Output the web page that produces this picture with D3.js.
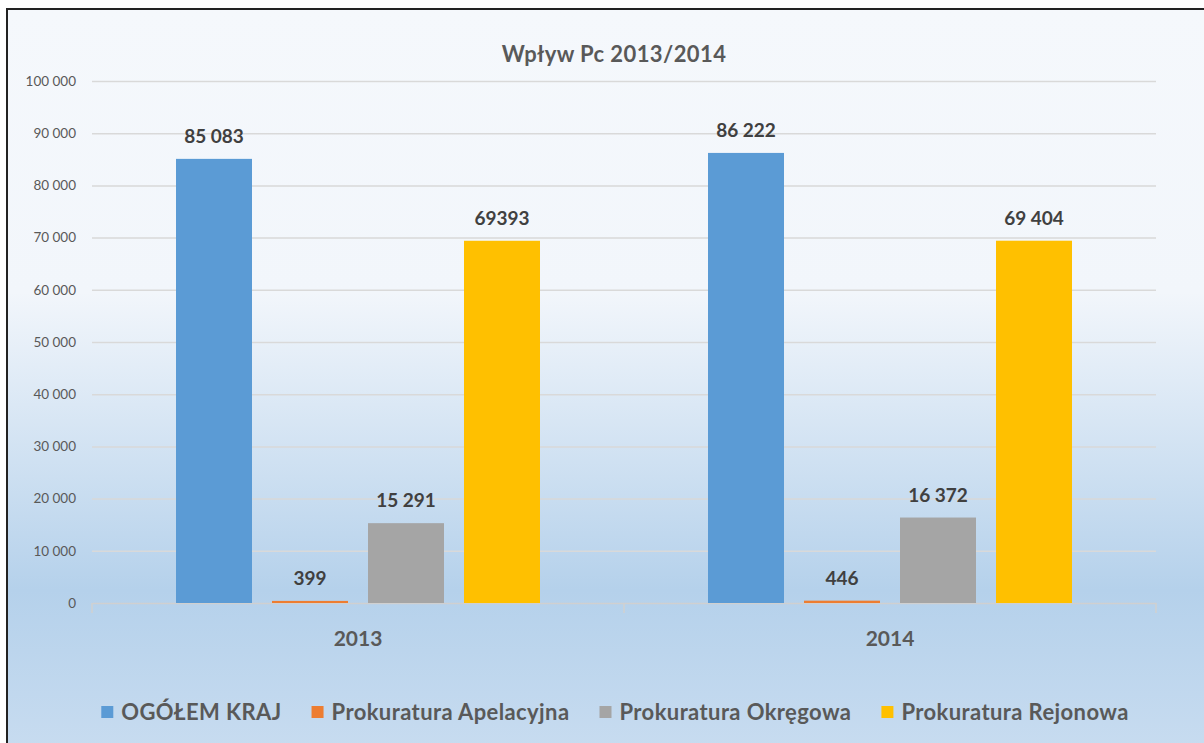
<!DOCTYPE html>
<html>
<head>
<meta charset="utf-8">
<style>
    body { margin: 0; background: #fff; }
    svg { display: block; }
    .y .tick text { fill: #595959; font-size: 13.5px; font-family: Lato, sans-serif; }
    .y .domain { display: none; }
    .grid line { stroke: #d9d9d9; stroke-width: 1.5; }
    .grid .domain { display: none; }
    .x .tick text { fill: #595959; font-size: 21px; font-family: Lato, sans-serif; font-weight: 700; }
    .x .domain, .x .tick line { stroke: #d0d0d0; stroke-width: 1.5; }
    .label { font-family: Lato, sans-serif; font-weight: 700; font-size: 19px; fill: #404040; }
    .legend text { font-family: Lato, sans-serif; font-weight: 700; font-size: 22px; letter-spacing: 0.4px; fill: #595959; }
</style>
</head>
<body>
<svg width="1204" height="743"></svg>

<script src="https://d3js.org/d3.v7.min.js"></script>
<script>
    // data
    let years = ["2013", "2014"];
    let seriesNames = ["OGÓŁEM KRAJ", "Prokuratura Apelacyjna", "Prokuratura Okręgowa", "Prokuratura Rejonowa"];
    let values2013 = [85083, 399, 15291, 69393];
    let values2014 = [86222, 446, 16372, 69404];
    let labels2013 = ["85 083", "399", "15 291", "69393"];
    let labels2014 = ["86 222", "446", "16 372", "69 404"];
    let yTicks = [0, 10000, 20000, 30000, 40000, 50000, 60000, 70000, 80000, 90000, 100000];
    let colors = ["#5b9bd5", "#ed7d31", "#a5a5a5", "#ffc000"];

    let svg = d3.select("svg");
    let margin = { top: 81, right: 48, bottom: 140, left: 92 };
    let width = 1204, height = 743;

    let data = years.map((y, i) => ({
        year: y,
        values: i == 0 ? values2013 : values2014,
        labels: i == 0 ? labels2013 : labels2014
    }));

    // background frame with gradient
    let grad = svg.append("defs").append("linearGradient")
        .attr("id", "bg").attr("x1", 0).attr("y1", 0).attr("x2", 0).attr("y2", 1);
    grad.append("stop").attr("offset", "0%").attr("stop-color", "#f5f8fc");
    grad.append("stop").attr("offset", "38%").attr("stop-color", "#f2f6fb");
    grad.append("stop").attr("offset", "78%").attr("stop-color", "#b5d1eb");
    grad.append("stop").attr("offset", "100%").attr("stop-color", "#c8dcf0");

    svg.append("rect")
        .attr("x", 7).attr("y", 9)
        .attr("width", 1240).attr("height", 745)
        .attr("fill", "url(#bg)")
        .attr("stroke", "#222")
        .attr("stroke-width", 2);

    let y = d3.scaleLinear()
        .domain([0, 100000])
        .range([height - margin.bottom, margin.top]);

    let x = d3.scaleBand()
        .domain(years)
        .range([margin.left, width - margin.right]);

    let xInner = d3.scaleBand()
        .domain(seriesNames)
        .range([0, x.bandwidth()])
        .paddingInner(20 / 96)
        .paddingOuter(84 / 96);

    let color = d3.scaleOrdinal().domain(seriesNames).range(colors);

    let locale = d3.formatLocale({ decimal: ",", thousands: " ", grouping: [3], currency: ["", " zł"] });
    let fmt = locale.format(",d");

    // gridlines
    svg.append("g")
        .attr("class", "grid")
        .attr("transform", `translate(${margin.left},0)`)
        .call(d3.axisLeft(y).tickValues(yTicks.slice(1)).tickSize(-(width - margin.left - margin.right)).tickFormat(""));

    // y axis labels
    svg.append("g")
        .attr("class", "y axis")
        .attr("transform", `translate(${margin.left - 16},0)`)
        .call(d3.axisLeft(y).tickValues(yTicks).tickSize(0).tickPadding(0).tickFormat(fmt));

    // x axis with boundary ticks
    let xAxis = svg.append("g")
        .attr("class", "x axis")
        .attr("transform", `translate(0,${height - margin.bottom})`)
        .call(d3.axisBottom(x).tickSize(0).tickPadding(28).tickSizeOuter(0));

    xAxis.selectAll(".sep")
        .data([margin.left, x("2014"), width - margin.right])
        .join("line")
        .attr("class", "sep")
        .attr("x1", d => d).attr("x2", d => d)
        .attr("y1", 0).attr("y2", 10)
        .attr("stroke", "#d0d0d0")
        .attr("stroke-width", 1.5);

    // bars
    let groups = svg.append("g")
        .selectAll("g")
        .data(data)
        .join("g")
        .attr("transform", d => `translate(${x(d.year)},0)`);

    groups.selectAll("rect")
        .data(d => d.values.map((v, i) => ({ key: seriesNames[i], value: v })))
        .join("rect")
        .attr("x", d => xInner(d.key))
        .attr("width", xInner.bandwidth())
        .attr("y", d => y(d.value))
        .attr("height", d => y(0) - y(d.value))
        .attr("fill", d => color(d.key));

    groups.selectAll("text")
        .data(d => d.values.map((v, i) => ({ key: seriesNames[i], value: v, label: d.labels[i] })))
        .join("text")
        .attr("class", "label")
        .attr("x", d => xInner(d.key) + xInner.bandwidth() / 2)
        .attr("y", d => y(d.value) - 16)
        .attr("text-anchor", "middle")
        .text(d => d.label);

    // title
    svg.append("text")
        .attr("x", 614)
        .attr("y", 62)
        .attr("text-anchor", "middle")
        .style("font-family", "Lato, sans-serif")
        .style("font-weight", 700)
        .style("font-size", "22px")
        .style("letter-spacing", "0.4px")
        .style("fill", "#595959")
        .text("Wpływ Pc 2013/2014");

    // legend
    let legend = svg.append("g").attr("class", "legend");
    let items = legend.selectAll("g")
        .data(seriesNames)
        .join("g");
    items.append("rect")
        .attr("width", 12).attr("height", 12)
        .attr("y", -6)
        .attr("fill", d => color(d));
    items.append("text")
        .attr("x", 20)
        .attr("dy", "0.35em")
        .text(d => d);

    let pos = 0;
    items.each(function () {
        let w = 20 + this.querySelector("text").getComputedTextLength();
        d3.select(this).attr("transform", `translate(${pos},0)`);
        pos += w + 30;
    });
    let total = pos - 30;
    legend.attr("transform", `translate(${615 - total / 2},712)`);
</script>
</body>
</html>
